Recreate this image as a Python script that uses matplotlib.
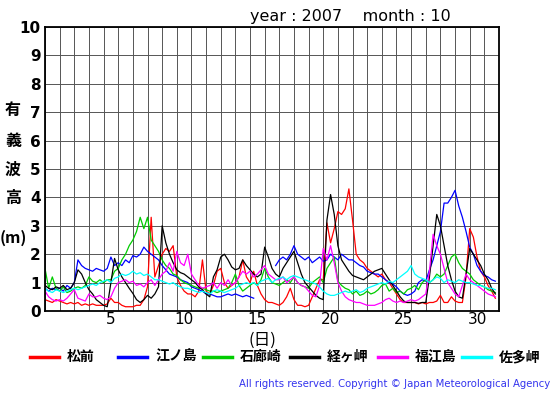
import numpy as np
import matplotlib
matplotlib.use('Agg')
import matplotlib.pyplot as plt
from matplotlib.lines import Line2D

plt.rcParams['font.family'] = ['DejaVu Sans']
jp = ['Noto Sans CJK JP', 'DejaVu Sans']

# six-hourly significant wave height (m), Oct 2007, 4 values per day
matsumae = [
    0.40, 0.35, 0.30, 0.40,  0.35, 0.30, 0.25, 0.30,  0.25, 0.30, 0.20, 0.25,
    0.20, 0.25, 0.20, 0.20,  0.20, 0.25, 0.45, 0.30,  0.30, 0.20, 0.15, 0.15,
    0.15, 0.20, 0.20, 0.40,  0.85, 3.30, 1.20, 1.60,  2.00, 2.20, 2.10, 2.30,
    1.20, 0.90, 0.70, 0.60,  0.60, 0.50, 0.70, 1.80,  0.70, 0.60, 0.90, 1.40,
    1.50, 1.00, 0.80, 0.90,  1.00, 1.20, 1.80, 1.20,  1.00, 1.40, 0.90, 0.60,
    0.40, 0.30, 0.30, 0.25,  0.20, 0.30, 0.50, 0.80,  0.40, 0.20, 0.20, 0.15,
    0.20, 0.50, 0.80, 1.10,  1.10, 3.10, 2.40, 2.90,  3.50, 3.40, 3.60, 4.30,
    3.20, 2.00, 1.80, 1.70,  1.50, 1.40, 1.30, 1.20,  1.30, 1.10, 1.00, 0.80,
    0.60, 0.40, 0.30, 0.30,  0.30, 0.30, 0.25, 0.30,  0.25, 0.30, 0.30, 0.35,
    0.55, 0.30, 0.30, 0.50,  0.35, 0.30, 0.30, 1.20,  2.90, 2.60, 1.90, 1.40,
    1.20, 0.90, 0.70, 0.45]
enoshima = [
    0.80, 0.70, 0.80, 0.75,  0.80, 0.70, 0.90, 0.80,  1.00, 1.80, 1.60, 1.50,
    1.45, 1.40, 1.50, 1.45,  1.40, 1.50, 1.90, 1.60,  1.70, 1.60, 1.80, 1.70,
    1.95, 1.90, 2.00, 2.25,  2.10, 2.00, 1.90, 1.80,  1.60, 1.45, 1.30, 1.25,
    1.20, 1.10, 1.05, 1.00,  0.85, 0.80, 0.75, 0.70,  0.60, 0.60, 0.55, 0.50,
    0.50, 0.55, 0.60, 0.55,  0.60, 0.55, 0.50, 0.55,  0.50, 0.45, np.nan, np.nan,
    np.nan, np.nan, np.nan, 1.60,  1.80, 1.90, 1.80, 2.00,  2.30, 2.00, 1.90, 1.80,
    1.90, 1.70, 1.80, 1.90,  1.75, 1.80, 2.00, 1.90,  1.80, 2.00, 1.90, 1.80,
    1.80, 1.70, 1.60, 1.55,  1.40, 1.35, 1.30, 1.30,  1.20, 1.10, 1.00, 0.95,
    0.85, 0.70, 0.60, 0.55,  0.60, 0.70, 1.00, 1.10,  1.05, 1.45, 1.80, 2.30,
    2.80, 3.80, 3.80, 4.00,  4.25, 3.70, 3.30, 2.80,  2.25, 2.00, 1.60, 1.40,
    1.25, 1.20, 1.10, 1.05]
irozaki = [
    1.50, 0.80, 1.20, 0.80,  0.70, 0.85, 0.65, 0.70,  0.80, 0.85, 0.80, 0.90,
    1.20, 1.05, 1.00, 1.10,  1.00, 1.10, 1.10, 1.40,  1.50, 1.80, 2.00, 2.30,
    2.50, 2.80, 3.30, 2.90,  3.30, 2.50, 2.30, 2.10,  1.80, 1.60, 1.50, 1.30,
    1.25, 1.10, 1.00, 0.95,  0.90, 0.85, 0.80, 0.80,  0.75, 0.70, 0.70, 0.65,
    0.70, 0.75, 0.80, 1.00,  1.30, 0.90, 0.70, 0.80,  0.90, 1.00, 0.90, 1.10,
    1.50, 1.20, 1.00, 0.95,  0.90, 1.00, 1.10, 1.00,  1.20, 1.00, 0.90, 0.85,
    0.80, 1.00, 1.10, 1.20,  1.00, 1.50, 1.70, 1.90,  1.05, 0.90, 0.80, 0.75,
    0.60, 0.70, 0.55, 0.60,  0.70, 0.60, 0.65, 0.75,  0.90, 0.95, 0.70, 0.80,
    0.65, 0.70, 0.60, 0.75,  0.80, 0.90, 0.75, 1.00,  1.10, 1.00, 1.10, 1.30,
    1.20, 1.30, 1.60, 1.90,  2.00, 1.70, 1.50, 1.40,  1.30, 1.10, 1.00, 0.90,
    0.85, 0.75, 0.70, 0.65]
kyogamisaki = [
    0.90, 0.80, 0.75, 0.85,  0.80, 0.90, 0.75, 0.80,  1.00, 1.45, 1.30, 1.00,
    0.75, 0.60, 0.40, 0.30,  0.20, 0.15, 1.00, 1.85,  1.45, 1.20, 1.00, 0.80,
    0.62, 0.40, 0.30, 0.40,  0.55, 0.45, 0.60, 0.85,  3.00, 2.40, 2.00, 1.70,
    1.45, 1.35, 1.30, 1.20,  1.10, 1.00, 0.85, 0.75,  0.60, 0.50, 1.20, 1.45,
    1.90, 2.00, 1.80, 1.55,  1.45, 1.50, 1.80, 1.60,  1.45, 1.30, 1.20, 1.30,
    2.25, 1.90, 1.50, 1.30,  1.20, 1.50, 1.70, 1.90,  2.10, 1.70, 1.30, 1.00,
    0.85, 0.70, 0.55, 0.45,  0.40, 3.20, 4.10, 3.40,  2.30, 1.80, 1.60, 1.40,
    1.25, 1.20, 1.15, 1.10,  1.20, 1.30, 1.40, 1.45,  1.50, 1.30, 1.10, 0.90,
    0.70, 0.50, 0.35, 0.30,  0.30, 0.30, 0.27, 0.30,  0.30, 1.20, 2.30, 3.40,
    3.00, 2.30, 1.60, 1.10,  0.70, 0.50, 0.45, 1.30,  2.20, 2.00, 1.80, 1.60,
    1.30, 1.10, 0.80, 0.60]
fukuejima = [
    0.70, 0.50, 0.40, 0.35,  0.40, 0.35, 0.45, 0.60,  0.75, 0.45, 0.40, 0.35,
    0.60, 0.50, 0.50, 0.55,  0.45, 0.40, 0.50, 0.80,  1.00, 1.05, 1.10, 1.00,
    1.05, 0.90, 0.95, 0.85,  1.00, 1.10, 0.90, 1.10,  1.30, 1.40, 1.70, 1.40,
    2.10, 1.70, 1.60, 2.00,  1.30, 1.10, 0.90, 0.80,  0.85, 0.90, 1.00, 0.80,
    1.00, 0.90, 1.10, 0.90,  1.00, 1.20, 1.40, 1.30,  1.40, 1.20, 1.30, 1.45,
    1.60, 1.30, 1.20, 1.10,  1.10, 1.20, 1.00, 1.10,  1.20, 1.00, 0.90, 0.85,
    0.70, 0.55, 0.50, 0.90,  2.20, 1.80, 2.30, 1.70,  1.00, 0.70, 0.50, 0.40,
    0.35, 0.30, 0.30, 0.25,  0.20, 0.20, 0.20, 0.25,  0.30, 0.40, 0.45, 0.35,
    0.30, 0.35, 0.30, 0.35,  0.40, 0.35, 0.40, 0.50,  0.60, 1.40, 2.70, 2.30,
    2.00, 1.50, 1.00, 0.80,  0.60, 0.50, 0.90, 1.30,  1.10, 1.00, 0.90, 0.80,
    0.70, 0.60, 0.55, 0.50]
satamisaki = [
    0.80, 0.70, 0.65, 0.75,  0.70, 0.65, 0.70, 0.75,  0.80, 0.75, 0.80, 0.85,
    0.90, 0.95, 0.90, 1.00,  1.05, 1.10, 1.00, 1.15,  1.20, 1.30, 1.25, 1.30,
    1.40, 1.30, 1.35, 1.25,  1.30, 1.20, 1.10, 1.10,  1.05, 1.00, 0.95, 1.00,
    0.90, 0.85, 0.80, 0.80,  0.75, 0.70, 0.65, 0.70,  0.65, 0.60, 0.70, 0.75,
    0.70, 0.65, 0.70, 0.75,  0.80, 0.90, 0.95, 1.00,  0.95, 1.00, 0.90, 1.05,
    1.10, 1.15, 1.00, 1.10,  1.15, 1.20, 1.10, 1.20,  1.25, 1.20, 1.15, 1.10,
    1.05, 1.00, 0.95, 0.85,  0.70, 0.60, 0.55, 0.55,  0.60, 0.65, 0.70, 0.65,
    0.70, 0.75, 0.65, 0.70,  0.80, 0.85, 0.90, 0.95,  1.00, 0.95, 1.05, 1.00,
    1.10, 1.20, 1.30, 1.40,  1.60, 1.30, 1.20, 1.15,  1.10, 1.00, 1.10, 1.20,
    1.15, 1.00, 1.10, 1.05,  1.00, 1.10, 1.05, 1.00,  1.00, 0.95, 0.90, 0.90,
    0.85, 0.80, 0.80, 0.75]

stations = ['松前', '江ノ島', '石廊崎', '経ヶ岬', '福江島', '佐多岬']
series = [matsumae, enoshima, irozaki, kyogamisaki, fukuejima, satamisaki]
colors = ['#ff0000', '#0000ff', '#00cc00', '#000000', '#ff00ff', '#00ffff']
day_ticks = [5, 10, 15, 20, 25, 30]

t = np.arange(len(matsumae)) / 4.0

fig = plt.figure(figsize=(5.55, 3.95), dpi=100)
ax = fig.add_axes([45/555, 1 - 311/395, 454/555, 284/395])

for vals, c in zip(series, colors):
    ax.plot(t, vals, color=c, lw=0.9)

ax.set_xlim(0, 31)
ax.set_ylim(0, 10)
ax.set_xticks(np.arange(0, 32), minor=True)
ax.set_yticks(np.arange(0, 11))
ax.set_yticklabels([str(i) for i in range(11)], fontweight='bold', fontsize=11)
ax.set_xticks([d - 0.5 for d in day_ticks])
ax.set_xticklabels([str(d) for d in day_ticks], fontsize=11)
ax.tick_params(axis='both', which='both', length=0, pad=3)
ax.tick_params(axis='x', pad=1)
ax.grid(True, which='minor', axis='x', color='#555555', lw=0.7)
ax.grid(True, which='major', axis='y', color='#555555', lw=0.7)
ax.set_axisbelow(True)
for s in ax.spines.values():
    s.set_linewidth(1.3)

fig.text(250/555, 1 - 17/395, 'year : 2007    month : 10', fontsize=11.5, va='center', ha='left')

for ch, y in zip(['有', '義', '波', '高', '(m)'], [110, 141, 170, 198, 238]):
    fig.text(13/555, 1 - y/395, ch, family=jp, fontsize=11.5, fontweight='bold',
             ha='center', va='center')

fig.text(262/555, 1 - 340/395, '(日)', family=jp, fontsize=12, ha='center', va='center')

# legend row
leg_x = [30, 118, 203, 290, 378, 462]
for name, c, x0 in zip(stations, colors, leg_x):
    fig.add_artist(Line2D([x0/555, (x0 + 29)/555], [1 - 357/395] * 2, color=c, lw=2.5))
    fig.text((x0 + 37)/555, 1 - 357/395, name, family=jp, fontsize=10,
             fontweight='bold', ha='left', va='center')

fig.text(550/555, 1 - 384/395,
         'All rights reserved. Copyright \u00a9 Japan Meteorological Agency',
         fontsize=7.3, color='#3333ee', ha='right', va='center')

fig.savefig('out.png', dpi=100)
